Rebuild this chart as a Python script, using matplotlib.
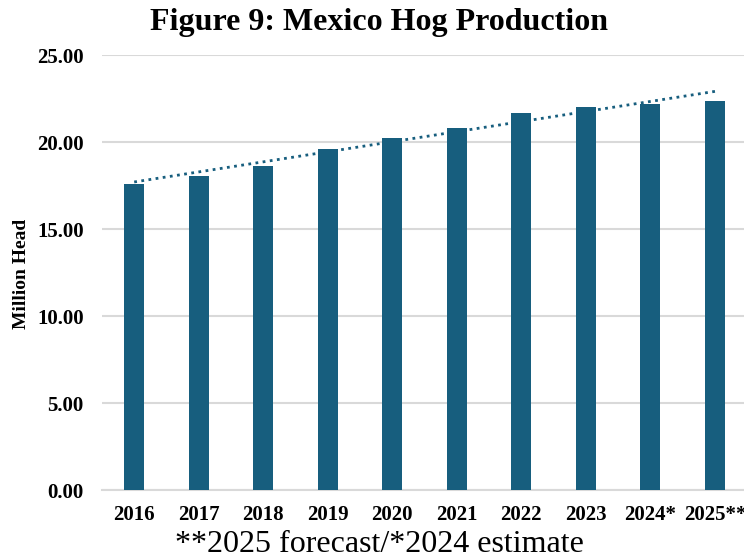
import matplotlib
matplotlib.use("Agg")
import matplotlib.pyplot as plt
import numpy as np

years = ["2016", "2017", "2018", "2019", "2020", "2021", "2022", "2023", "2024*", "2025**"]
production = [17.6, 18.05, 18.62, 19.6, 20.23, 20.8, 21.67, 22.01, 22.18, 22.36]
yticks = [0, 5, 10, 15, 20, 25]

plt.rcParams['font.family'] = ['Liberation Serif', 'DejaVu Serif']

fig = plt.figure(figsize=(7.44, 5.54), dpi=100)
ax = fig.add_axes([0.137, 0.1155, 0.863, 0.785])

x = np.arange(len(years))
color = "#175E7E"
ax.bar(x, production, width=0.31, color=color, zorder=3)

coef = np.polyfit(x, production, 1)
ax.plot([x[0], x[-1]], np.polyval(coef, [x[0], x[-1]]), linestyle=(0, (1, 1.6)),
        color=color, linewidth=2.0, zorder=4)

ax.set_ylim(0, 25)
ax.set_xlim(-0.5, 9.45)
ax.set_yticks(yticks)
ax.set_yticklabels([f"{v:.2f}" for v in yticks], fontsize=15, fontweight="bold")
ax.set_xticks(x)
ax.set_xticklabels(years, fontsize=15, fontweight="bold")
ax.tick_params(axis="both", length=0)
ax.tick_params(axis="y", pad=13)
ax.tick_params(axis="x", pad=11)
ax.grid(axis="y", color="#d9d9d9", linewidth=1.5, zorder=0)
for s in ["top", "right", "left"]:
    ax.spines[s].set_visible(False)
ax.spines["bottom"].set_color("#d9d9d9")
ax.spines["bottom"].set_linewidth(1.5)

fig.text(22 / 744, 1 - 274 / 554, "Million Head", rotation=90, ha="center", va="center",
         fontsize=14, fontweight="bold")

fig.text(0.51, 0.96, "Figure 9: Mexico Hog Production", ha="center", va="center",
         fontsize=23, fontweight="bold")
fig.text(379 / 744, 0.004, "**2025 forecast/*2024 estimate", ha="center", va="baseline",
         fontsize=23)

fig.savefig("out.png", dpi=100)
